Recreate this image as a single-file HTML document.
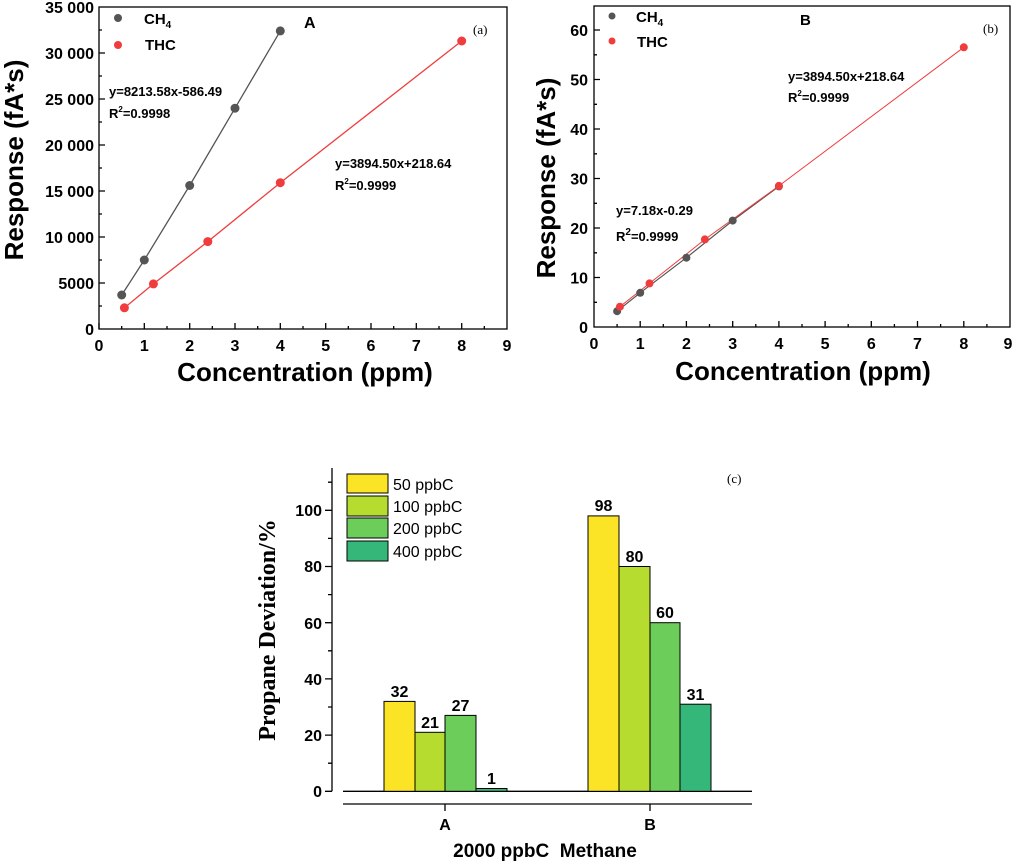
<!DOCTYPE html>
<html><head><meta charset="utf-8"><style>
body{margin:0;background:#fff;}
svg{display:block;font-family:"Liberation Sans",Arial,sans-serif;}
.b{font-weight:bold;}
</style></head><body>
<svg width="1015" height="861" viewBox="0 0 1015 861" xmlns="http://www.w3.org/2000/svg">
<!-- Chart A -->
<g stroke="#000" stroke-width="1.3" fill="none">
<rect x="99" y="7" width="408" height="322"/>
<path d="M99,329v-6M144.3,329v-6M189.7,329v-6M235,329v-6M280.3,329v-6M325.7,329v-6M371,329v-6M416.3,329v-6M461.7,329v-6M121.7,329v-3M167,329v-3M212.3,329v-3M257.7,329v-3M303,329v-3M348.3,329v-3M393.7,329v-3M439,329v-3M484.3,329v-3"/>
<path d="M99,283h6M99,237h6M99,191h6M99,145h6M99,99h6M99,53h6M99,306h3M99,260h3M99,214h3M99,168h3M99,122h3M99,76h3M99,30h3"/>
</g>
<g class="b" font-size="16" text-anchor="end" fill="#000">
<text x="94" y="335">0</text><text x="94" y="289">5000</text><text x="94" y="243">10 000</text><text x="94" y="197">15 000</text><text x="94" y="151">20 000</text><text x="94" y="105">25 000</text><text x="94" y="59">30 000</text><text x="94" y="13">35 000</text>
</g>
<g class="b" font-size="16" text-anchor="middle">
<text x="99" y="351">0</text><text x="144.3" y="351">1</text><text x="189.7" y="351">2</text><text x="235" y="351">3</text><text x="280.3" y="351">4</text><text x="325.7" y="351">5</text><text x="371" y="351">6</text><text x="416.3" y="351">7</text><text x="461.7" y="351">8</text><text x="507" y="351">9</text>
</g>
<text class="b" font-size="26" x="305" y="381" text-anchor="middle">Concentration (ppm)</text>
<text class="b" font-size="26" transform="translate(23,160) rotate(-90)" text-anchor="middle">Response (fA*s)</text>
<polyline points="121.7,295 144.3,260 189.7,185.5 235,108.2 280.3,30.9" stroke="#555" stroke-width="1.3" fill="none"/>
<polyline points="124.4,307.8 153.4,283.9 207.8,241.6 280.3,182.7 461.7,41" stroke="#f03c3c" stroke-width="1.3" fill="none"/>
<g fill="#555"><circle cx="121.7" cy="295" r="4.5"/><circle cx="144.3" cy="260" r="4.5"/><circle cx="189.7" cy="185.5" r="4.5"/><circle cx="235" cy="108.2" r="4.5"/><circle cx="280.3" cy="30.9" r="4.5"/><circle cx="118" cy="18" r="4"/></g>
<g fill="#f03c3c"><circle cx="124.4" cy="307.8" r="4.5"/><circle cx="153.4" cy="283.9" r="4.5"/><circle cx="207.8" cy="241.6" r="4.5"/><circle cx="280.3" cy="182.7" r="4.5"/><circle cx="461.7" cy="41" r="4.5"/><circle cx="118" cy="45" r="4"/></g>
<text class="b" font-size="15" x="144" y="24">CH<tspan font-size="10" dy="4">4</tspan></text>
<text class="b" font-size="15" x="145" y="50">THC</text>
<text class="b" font-size="16" x="304" y="28">A</text>
<text font-family="Liberation Serif,serif" font-size="13" x="473" y="34">(a)</text>
<text class="b" font-size="13" x="109" y="96">y=8213.58x-586.49</text>
<text class="b" font-size="13" x="109" y="118">R<tspan font-size="8" dy="-6">2</tspan><tspan dy="6">=0.9998</tspan></text>
<text class="b" font-size="13" x="335" y="168">y=3894.50x+218.64</text>
<text class="b" font-size="13" x="335" y="190">R<tspan font-size="8" dy="-6">2</tspan><tspan dy="6">=0.9999</tspan></text>

<!-- Chart B -->
<g stroke="#000" stroke-width="1.3" fill="none">
<rect x="594" y="6" width="416" height="321"/>
<path d="M640.2,327v-6M686.4,327v-6M732.7,327v-6M778.9,327v-6M825.1,327v-6M871.3,327v-6M917.5,327v-6M963.8,327v-6M617.1,327v-3M663.3,327v-3M709.5,327v-3M755.8,327v-3M802,327v-3M848.2,327v-3M894.4,327v-3M940.6,327v-3M986.9,327v-3"/>
<path d="M594,277.5h6M594,228h6M594,178.5h6M594,129h6M594,79.5h6M594,30h6M594,302.3h3M594,252.8h3M594,203.3h3M594,153.8h3M594,104.3h3M594,54.8h3"/>
</g>
<g class="b" font-size="16" text-anchor="end">
<text x="588" y="333">0</text><text x="588" y="283.5">10</text><text x="588" y="234">20</text><text x="588" y="184.5">30</text><text x="588" y="135">40</text><text x="588" y="85.5">50</text><text x="588" y="36">60</text>
</g>
<g class="b" font-size="16" text-anchor="middle">
<text x="594" y="349">0</text><text x="640.2" y="349">1</text><text x="686.4" y="349">2</text><text x="732.7" y="349">3</text><text x="778.9" y="349">4</text><text x="825.1" y="349">5</text><text x="871.3" y="349">6</text><text x="917.5" y="349">7</text><text x="963.8" y="349">8</text><text x="1008" y="349">9</text>
</g>
<text class="b" font-size="26" x="803" y="380" text-anchor="middle">Concentration (ppm)</text>
<text class="b" font-size="26" transform="translate(555,178) rotate(-90)" text-anchor="middle">Response (fA*s)</text>
<polyline points="617.1,311.2 640.2,292.8 686.4,257.7 732.7,220.6 778.9,186.4" stroke="#555" stroke-width="1.2" fill="none"/>
<polyline points="619.9,306.7 649.5,283.4 704.9,239.4 778.9,185.9 963.8,47.3" stroke="#f03c3c" stroke-width="1" fill="none"/>
<g fill="#555"><circle cx="617.1" cy="311.2" r="4"/><circle cx="640.2" cy="292.8" r="4"/><circle cx="686.4" cy="257.7" r="4"/><circle cx="732.7" cy="220.6" r="4"/><circle cx="778.9" cy="186.4" r="4"/><circle cx="612" cy="16" r="3.5"/></g>
<g fill="#f03c3c"><circle cx="619.9" cy="306.7" r="4"/><circle cx="649.5" cy="283.4" r="4"/><circle cx="704.9" cy="239.4" r="4"/><circle cx="778.9" cy="185.9" r="4"/><circle cx="963.8" cy="47.3" r="4"/><circle cx="612" cy="41" r="3.5"/></g>
<text class="b" font-size="15" x="636" y="22">CH<tspan font-size="10" dy="4">4</tspan></text>
<text class="b" font-size="15" x="637" y="47">THC</text>
<text class="b" font-size="15" x="800" y="25">B</text>
<text font-family="Liberation Serif,serif" font-size="13" x="983" y="33">(b)</text>
<text class="b" font-size="13" x="788" y="81">y=3894.50x+218.64</text>
<text class="b" font-size="13" x="788" y="102">R<tspan font-size="8" dy="-6">2</tspan><tspan dy="6">=0.9999</tspan></text>
<text class="b" font-size="13" x="616" y="215">y=7.18x-0.29</text>
<text class="b" font-size="13" x="616" y="241">R<tspan font-size="10" dy="-6">2</tspan><tspan dy="6">=0.9999</tspan></text>

<!-- Chart C -->
<g stroke="#000" stroke-width="1.3" fill="none">
<path d="M332,468V791.3"/>
<path d="M332,791.3h-7M332,735.1h-7M332,678.9h-7M332,622.7h-7M332,566.5h-7M332,510.3h-7M332,763.2h-4M332,707h-4M332,650.8h-4M332,594.6h-4M332,538.4h-4M332,482.2h-4"/>
<path d="M343,791.3H752M343,804H752M445,804v7M650,804v7"/>
</g>
<g stroke="#000" stroke-width="1">
<rect x="384" y="701.4" width="31" height="89.9" fill="#fbe426"/>
<rect x="415" y="732.3" width="30" height="59" fill="#b5dc2f"/>
<rect x="445" y="715.4" width="31" height="75.9" fill="#6ccd5a"/>
<rect x="476" y="788.5" width="31" height="2.8" fill="#35b779"/>
<rect x="588" y="515.9" width="31" height="275.4" fill="#fbe426"/>
<rect x="619" y="566.5" width="31" height="224.8" fill="#b5dc2f"/>
<rect x="650" y="622.7" width="30" height="168.6" fill="#6ccd5a"/>
<rect x="680" y="704.2" width="31" height="87.1" fill="#35b779"/>
<rect x="347" y="474" width="41" height="19" fill="#fbe426"/>
<rect x="347" y="496" width="41" height="20" fill="#b5dc2f"/>
<rect x="347" y="518" width="41" height="20" fill="#6ccd5a"/>
<rect x="347" y="541" width="41" height="20" fill="#35b779"/>
</g>
<g font-size="16">
<text x="393" y="490">50 ppbC</text><text x="393" y="512">100 ppbC</text><text x="393" y="534">200 ppbC</text><text x="393" y="557">400 ppbC</text>
</g>
<g class="b" font-size="16" text-anchor="middle">
<text x="399.5" y="697">32</text><text x="430" y="728">21</text><text x="460.5" y="711">27</text><text x="491.5" y="784">1</text>
<text x="603.5" y="511">98</text><text x="634.5" y="562">80</text><text x="665" y="618">60</text><text x="695.5" y="700">31</text>
</g>
<g class="b" font-size="16" text-anchor="end">
<text x="322" y="797">0</text><text x="322" y="741">20</text><text x="322" y="685">40</text><text x="322" y="629">60</text><text x="322" y="572">80</text><text x="322" y="516">100</text>
</g>
<g class="b" font-size="16" text-anchor="middle"><text x="445" y="830">A</text><text x="650" y="830">B</text></g>
<text class="b" font-size="19" x="545" y="857" text-anchor="middle" xml:space="preserve">2000 ppbC&#160; Methane</text>
<text font-family="Liberation Serif,serif" font-weight="bold" font-size="24" transform="translate(275,630) rotate(-90)" text-anchor="middle">Propane Deviation/%</text>
<text font-family="Liberation Serif,serif" font-size="13" x="727" y="483">(c)</text>
</svg>
</body></html>
